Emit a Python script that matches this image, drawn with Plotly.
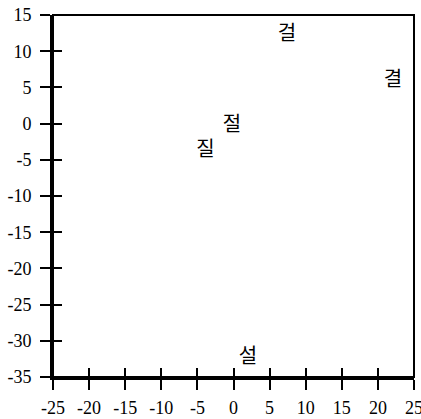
import plotly.graph_objects as go

# Data
labels = ["걸", "결", "절", "질", "설"]
x_vals = [7.4, 22.1, -0.2, -3.9, 2.0]
y_vals = [12.3, 5.9, -0.3, -3.8, -32.4]
x_ticks = [-25, -20, -15, -10, -5, 0, 5, 10, 15, 20, 25]
y_ticks = [15, 10, 5, 0, -5, -10, -15, -20, -25, -30, -35]

fig = go.Figure()
fig.add_trace(go.Scatter(
    x=x_vals, y=y_vals, text=labels, mode="text",
    textfont=dict(family="Noto Sans CJK KR", size=20, color="black"),
    textposition="middle center", showlegend=False, hoverinfo="skip",
))

tickfont = dict(family="Liberation Serif", size=18, color="black")
fig.update_layout(
    width=421, height=419,
    margin=dict(l=53, r=7, t=15, b=42),
    paper_bgcolor="white", plot_bgcolor="white",
    showlegend=False,
    xaxis=dict(range=[-25, 25], tickvals=x_ticks, ticktext=[str(v) for v in x_ticks],
               showgrid=False, zeroline=False, showline=True, linecolor="black", linewidth=3,
               ticks="outside", ticklen=10, tickwidth=1.5, tickcolor="black", automargin=False,
               tickfont=tickfont, ticklabelstandoff=2, ticklabeloverflow="allow"),
    yaxis=dict(range=[-35, 15], tickvals=y_ticks, ticktext=[str(v) for v in y_ticks],
               showgrid=False, zeroline=False, showline=True, linecolor="black", linewidth=3,
               ticks="outside", ticklen=10, tickwidth=1.5, tickcolor="black", automargin=False,
               tickfont=tickfont, ticklabelstandoff=5, ticklabeloverflow="allow"),
    xaxis2=dict(range=[-25, 25], overlaying="x", tickvals=x_ticks, showticklabels=False,
                showgrid=False, zeroline=False, ticks="inside", ticklen=9, tickwidth=1.5,
                tickcolor="black", side="bottom", automargin=False),
    yaxis2=dict(range=[-35, 15], overlaying="y", tickvals=y_ticks, showticklabels=False,
                showgrid=False, zeroline=False, ticks="inside", ticklen=9, tickwidth=1.5,
                tickcolor="black", side="left", automargin=False),
    shapes=[dict(type="rect", xref="x domain", yref="y domain", x0=0, x1=1, y0=0, y1=1,
                 line=dict(color="black", width=2), layer="above")],
)
fig.add_trace(go.Scatter(x=[None], y=[None], xaxis="x2", yaxis="y2", showlegend=False))
fig.write_html("out.html", config={"displayModeBar": False},
               post_script="document.body.style.margin='0';")
